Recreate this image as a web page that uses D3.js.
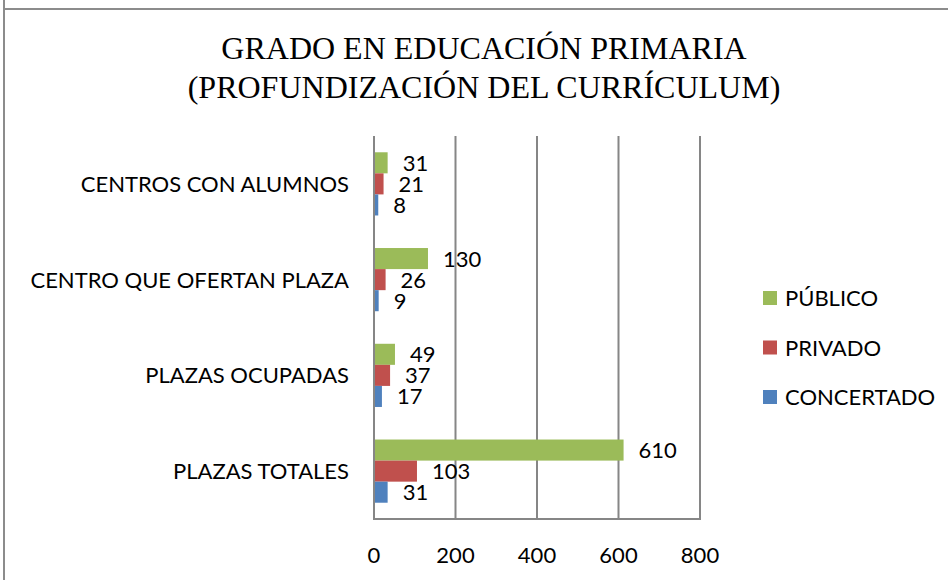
<!DOCTYPE html>
<html lang="es">
<head>
  <meta charset="UTF-8" />
  <title>Grado en Educación Primaria</title>
  <script src="https://d3js.org/d3.v7.min.js"></script>
  <style>
    body { margin: 0; background: #fff; }
    .lbl { font-family: Lato, "Open Sans", sans-serif; font-size: 22px; fill: #000; }
    .title { font-family: "Liberation Serif", serif; font-size: 32px; fill: #000; }
  </style>
</head>
<body>
  <svg id="chart" width="948" height="580"></svg>

  <script>
    const categories = ['CENTROS CON ALUMNOS', 'CENTRO QUE OFERTAN PLAZA', 'PLAZAS OCUPADAS', 'PLAZAS TOTALES'];
    const seriesNames = ['PÚBLICO', 'PRIVADO', 'CONCERTADO'];
    const publico = [31, 130, 49, 610];
    const privado = [21, 26, 37, 103];
    const concertado = [8, 9, 17, 31];
    const ticks = [0, 200, 400, 600, 800];
    const colors = ['#9BBB59', '#C0504D', '#4F81BD'];

    const seriesValues = [publico, privado, concertado];

    const svg = d3.select("#chart");

    // outer frame
    svg.append("line").attr("x1", 4).attr("x2", 948).attr("y1", 9).attr("y2", 9)
      .attr("stroke", "#8c8c8c").attr("stroke-width", 2);
    svg.append("line").attr("x1", 4).attr("x2", 4).attr("y1", 0).attr("y2", 580)
      .attr("stroke", "#8c8c8c").attr("stroke-width", 2);

    // title
    svg.append("text").attr("class", "title").attr("x", 484).attr("y", 59)
      .attr("text-anchor", "middle").text("GRADO EN EDUCACIÓN PRIMARIA");
    svg.append("text").attr("class", "title").attr("x", 484).attr("y", 98)
      .attr("text-anchor", "middle").text("(PROFUNDIZACIÓN DEL CURRÍCULUM)");

    const plotLeft = 374, plotRight = 700, plotTop = 136, plotBottom = 519;

    const x = d3.scaleLinear().domain([0, 800]).range([plotLeft, plotRight]);
    const y = d3.scaleBand().domain(categories).range([plotTop, plotBottom]).paddingInner(0.34).paddingOuter(0.17);
    const ySub = d3.scaleBand().domain(seriesNames).range([0, y.bandwidth()]);

    // gridlines
    svg.selectAll("line.grid")
      .data(ticks)
      .enter()
      .append("line")
      .attr("class", "grid")
      .attr("x1", d => x(d)).attr("x2", d => x(d))
      .attr("y1", plotTop).attr("y2", plotBottom)
      .attr("stroke", "#868686").attr("stroke-width", 2);

    svg.append("line").attr("x1", plotLeft - 1).attr("x2", plotRight + 1).attr("y1", plotBottom).attr("y2", plotBottom)
      .attr("stroke", "#868686").attr("stroke-width", 2);

    // bars
    seriesNames.forEach((s, si) => {
      const vals = seriesValues[si];
      svg.selectAll("rect.s" + si)
        .data(categories)
        .enter()
        .append("rect")
        .attr("class", "s" + si)
        .attr("x", x(0) + 1)
        .attr("y", c => y(c) + ySub(s))
        .attr("width", (c, i) => x(vals[i]) - x(0))
        .attr("height", ySub.bandwidth())
        .attr("fill", colors[si]);

      svg.selectAll("text.v" + si)
        .data(categories)
        .enter()
        .append("text")
        .attr("class", "lbl v" + si)
        .attr("x", (c, i) => x(vals[i]) + 16)
        .attr("y", c => y(c) + ySub(s) + ySub.bandwidth() / 2 + 8)
        .text((c, i) => vals[i]);
    });

    // category labels
    svg.selectAll("text.cat")
      .data(categories)
      .enter()
      .append("text")
      .attr("class", "lbl cat")
      .attr("x", 349)
      .attr("y", c => y(c) + y.bandwidth() / 2 + 8)
      .attr("text-anchor", "end")
      .text(c => c);

    // tick labels
    svg.selectAll("text.tick")
      .data(ticks)
      .enter()
      .append("text")
      .attr("class", "lbl tick")
      .attr("x", d => x(d))
      .attr("y", 563)
      .attr("text-anchor", "middle")
      .text(d => d);

    // legend
    const legendY = d3.scalePoint().domain(seriesNames).range([298, 397]);
    seriesNames.forEach((s, i) => {
      svg.append("rect").attr("x", 763).attr("y", legendY(s) - 7)
        .attr("width", 14).attr("height", 14).attr("fill", colors[i]);
      svg.append("text").attr("class", "lbl").attr("x", 785).attr("y", legendY(s) + 8).text(s);
    });
  </script>
</body>
</html>
